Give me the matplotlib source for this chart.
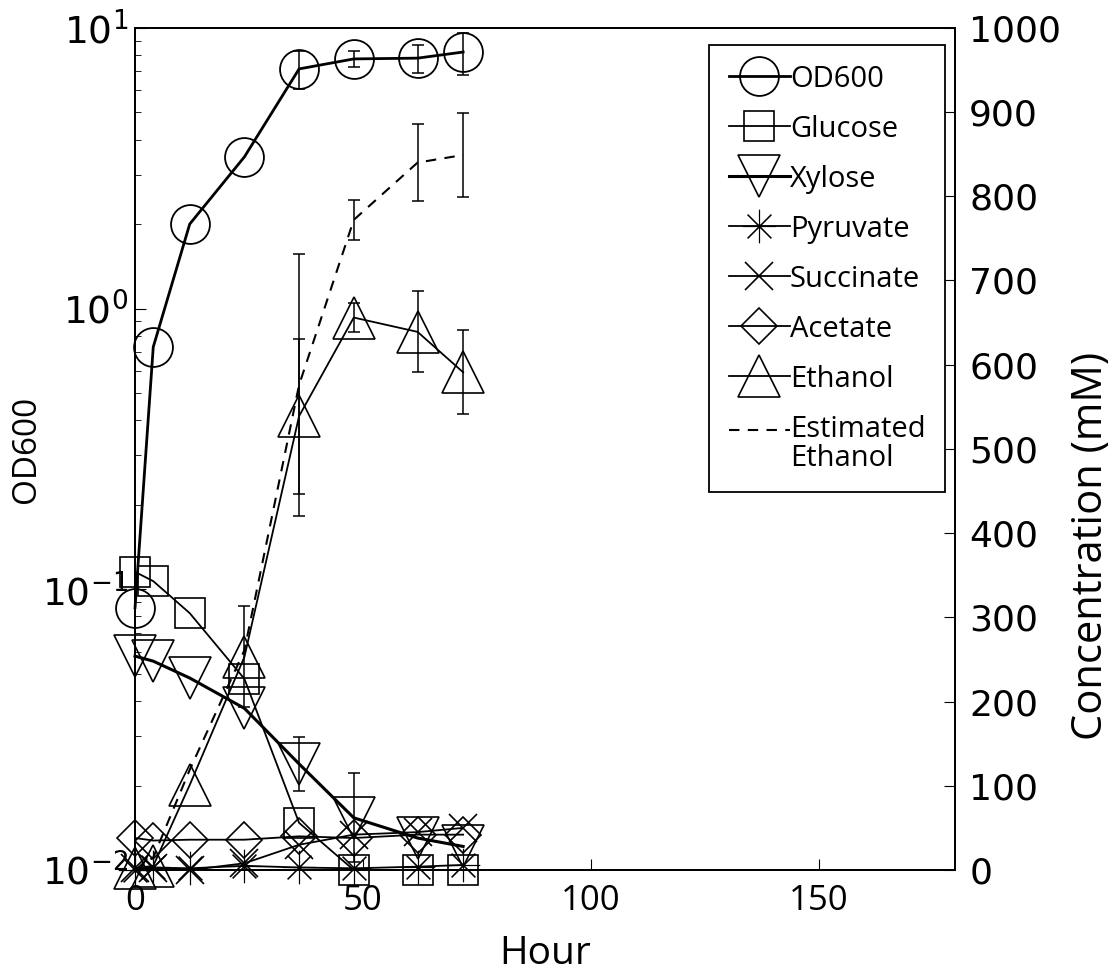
import numpy as np
import matplotlib.pyplot as plt
from matplotlib.legend_handler import HandlerLine2D

# sampling times (h)
hours = [0, 4, 12, 24, 36, 48, 62, 72]

# left axis, log scale
od600 = [0.086, 0.73, 2.0, 3.47, 7.14, 7.75, 7.8, 8.2]
od600_err = [0, 0, 0, 0, 1.1, 0.5, 0.9, 1.4]

# right axis, concentrations in mM
glucose = [354, 343, 305, 227, 56, 0, 0, 0]
xylose = [254, 248, 228, 192, 126, 62, 38, 28]
xylose_err = [0, 0, 0, 0, 32, 53, 0, 0]
pyruvate = [0, 3, 2, 5, 3, 2, 4, 6]
succinate = [2, 2, 0, 8, 30, 42, 45, 50]
acetate = [38, 35, 36, 36, 40, 38, 42, 42]
ethanol = [2, 5, 101, 253, 539, 656, 639, 591]
ethanol_err = [0, 0, 0, 60, 92, 17, 48, 50]
est_ethanol = [0, 15, 119, 261, 576, 772, 840, 849]
est_ethanol_err = [0, 0, 0, 0, 156, 24, 46, 50]

label_font = 'Open Sans'
tick_font = 'DejaVu Sans'


def with_err(a, x, y, err, **kw):
    # only draw bars where an error was reported
    x, y, err = np.asarray(x), np.asarray(y), np.asarray(err)
    m = err > 0
    a.errorbar(x[m], y[m], yerr=err[m], fmt='none', ecolor='k',
               elinewidth=1.1, capsize=4, capthick=1.1, clip_on=False, **kw)


class TopLineHandler(HandlerLine2D):
    # puts the handle next to the first line of a two-line label
    def create_artists(self, legend, orig_handle, xdescent, ydescent,
                       width, height, fontsize, trans):
        return super().create_artists(legend, orig_handle, xdescent,
                                      ydescent - 0.95 * fontsize, width,
                                      height, fontsize, trans)


fig = plt.figure(figsize=(11.16, 9.77), dpi=100)
ax = fig.add_axes([0.121, 0.1095, 0.735, 0.862])
ax2 = ax.twinx()

# OD600 on the log axis
ax.set_yscale('log')
l_od, = ax.plot(hours, od600, 'k-', marker='o', ms=28, mfc='none', mec='k',
                mew=1.3, lw=2, clip_on=False, zorder=3)
with_err(ax, hours, od600, od600_err)
ax.set_ylim(1e-2, 1e1)
ax.set_xlim(0, 180)
ax.set_xticks([0, 50, 100, 150])

mk = dict(mfc='none', mec='k', mew=1.2, lw=1.3, color='k', clip_on=False)
l_glu, = ax2.plot(hours, glucose, marker='s', ms=21, **mk)
l_xyl, = ax2.plot(hours, xylose, marker='v', ms=30,
                  **{**mk, 'lw': 2.2})
l_pyr, = ax2.plot(hours, pyruvate, marker=(8, 2, 0), ms=24,
                  **{**mk, 'mew': 0.8})
l_suc, = ax2.plot(hours, succinate, marker='x', ms=20, **mk)
l_ace, = ax2.plot(hours, acetate, marker='D', ms=18, **mk)
l_eth, = ax2.plot(hours, ethanol, marker='^', ms=30, **mk)
l_est, = ax2.plot(hours, est_ethanol, 'k--', lw=1.5, dashes=(5, 4),
                  clip_on=False)

with_err(ax2, hours, xylose, xylose_err)
with_err(ax2, hours, ethanol, ethanol_err)
with_err(ax2, hours, est_ethanol, est_ethanol_err)

ax2.set_ylim(0, 1000)
ax2.set_yticks(np.arange(0, 1001, 100))

ax.tick_params(axis='both', which='both', direction='in')
ax.tick_params(axis='y', which='major', length=8, labelsize=27, pad=5)
ax.tick_params(axis='y', which='minor', length=4)
ax.tick_params(axis='x', length=8, labelsize=25, pad=10)
ax2.tick_params(axis='y', direction='in', length=8, labelsize=26, pad=10)
for t in ax.get_yticklabels() + ax2.get_yticklabels():
    t.set_family(tick_font)
for t in ax.get_xticklabels():
    t.set_family(label_font)

ax.set_xlabel('Hour', fontsize=28, family=label_font, labelpad=12)
ax.set_ylabel('OD600', fontsize=24, family=label_font)
ax.yaxis.set_label_coords(-0.112, 0.5)
ax2.set_ylabel('Concentration (mM)', fontsize=30, family=label_font)
ax2.yaxis.set_label_coords(1.14, 0.385)

for a in (ax, ax2):
    for s in a.spines.values():
        s.set_linewidth(1.3)

handles = [l_od, l_glu, l_xyl, l_pyr, l_suc, l_ace, l_eth, l_est]
labels = ['OD600', 'Glucose', 'Xylose', 'Pyruvate', 'Succinate', 'Acetate',
          'Ethanol', 'Estimated\nEthanol']
leg = ax2.legend(handles, labels, loc='upper right',
                 bbox_to_anchor=(0.988, 0.98), fancybox=False,
                 edgecolor='k', framealpha=1, handlelength=2.1,
                 handletextpad=0.0, labelspacing=0.72, borderpad=0.68,
                 borderaxespad=0, markerscale=1,
                 handler_map={l_est: TopLineHandler()},
                 prop={'family': label_font, 'size': 21})
leg.get_frame().set_linewidth(1.3)
for t in leg.get_texts()[-1:]:
    t.set_linespacing(1.0)

fig.savefig('out.png', dpi=100)
